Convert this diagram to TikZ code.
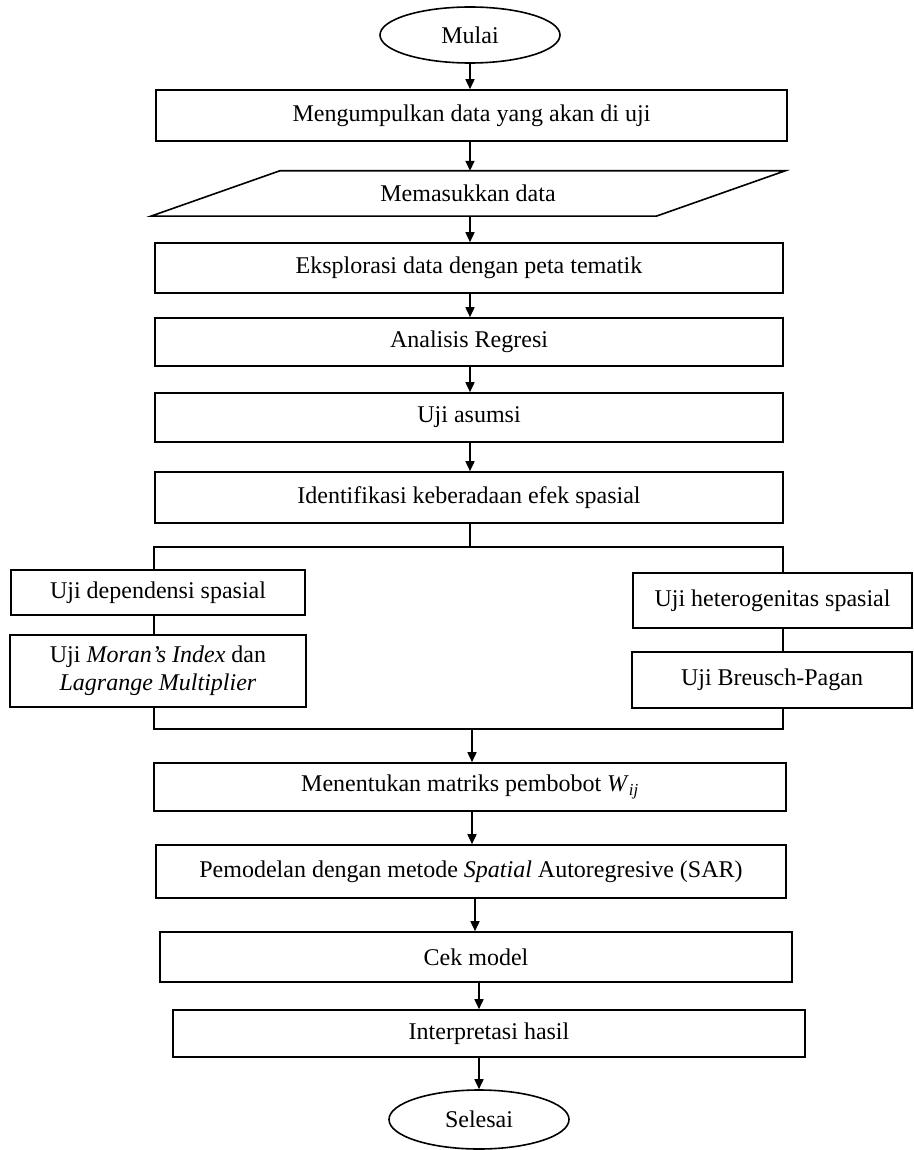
\documentclass[tikz,border=0pt]{standalone}
\usepackage{fontspec}
\setmainfont{Liberation Serif}
\usetikzlibrary{arrows.meta,shapes.geometric,calc}
\begin{document}
\begin{tikzpicture}[x=1pt,y=-1pt,
  txt/.style={inner sep=0pt, align=center, font=\fontsize{24}{28}\selectfont},
  box/.style={txt, draw, line width=1.6pt, rectangle},
  term/.style={txt, draw, line width=1.6pt, ellipse},
  ln/.style={line width=1.6pt},
  arr/.style={line width=1.6pt, -{Triangle[length=10pt,width=9pt]}}]
\useasboundingbox (0,0) rectangle (913,1150);

\node[term, minimum width=180pt, minimum height=56pt] (start) at (470,35) {Mulai};
\node[box, minimum width=631pt, minimum height=51pt] (n1) at (471.5,115.5) {Mengumpulkan data yang akan di uji};
\node[txt, minimum width=505pt, minimum height=45pt] (para) at (468,193.5) {Memasukkan data};
\draw[ln] ($(para.north west)+(64.5,0)$) -- ($(para.north east)+(64.5,0)$) -- ($(para.south east)+(-64.5,0)$) -- ($(para.south west)+(-64.5,0)$) -- cycle;
\node[box, minimum width=628pt, minimum height=50pt] (n3) at (469,268) {Eksplorasi data dengan peta tematik};
\node[box, minimum width=628pt, minimum height=48pt] (n4) at (469,342) {Analisis Regresi};
\node[box, minimum width=628pt, minimum height=49pt] (n5) at (469,417.5) {Uji asumsi};
\node[box, minimum width=628pt, minimum height=51pt] (n6) at (469,497.5) {Identifikasi keberadaan efek spasial};

\node[box, minimum width=294pt, minimum height=45pt] (L1) at (158,592.5) {Uji dependensi spasial};
\node[box, minimum width=279pt, minimum height=55pt] (R1) at (772.5,600.5) {Uji heterogenitas spasial};
\node[box, minimum width=296pt, minimum height=72pt] (L2) at (158,671) {Uji \textit{Moran’s Index} dan\\\textit{Lagrange Multiplier}};
\node[box, minimum width=280pt, minimum height=56pt] (R2) at (772,680) {Uji Breusch-Pagan};

\node[box, minimum width=632pt, minimum height=48pt] (n7) at (470,787) {Menentukan matriks pembobot \textit{W}\textsubscript{\textit{ij}}};
\node[box, minimum width=630pt, minimum height=53pt] (n8) at (471,871.5) {Pemodelan dengan metode \textit{Spatial} Autoregresive (SAR)};
\node[box, minimum width=632pt, minimum height=50pt] (n9) at (476,957) {Cek model};
\node[box, minimum width=632pt, minimum height=47pt] (n10) at (489,1033.5) {Interpretasi hasil};
\node[term, minimum width=180pt, minimum height=59pt] (end) at (479,1119.5) {Selesai};

\coordinate (c1) at (470,0);
\draw[arr] (c1 |- start.south) -- (c1 |- n1.north);
\draw[arr] (c1 |- n1.south) -- (c1 |- para.north);
\draw[arr] (c1 |- para.south) -- (c1 |- n3.north);
\draw[arr] (c1 |- n3.south) -- (c1 |- n4.north);
\draw[arr] (c1 |- n4.south) -- (c1 |- n5.north);
\draw[arr] (c1 |- n5.south) -- (c1 |- n6.north);

\coordinate (sp) at (470,547);
\coordinate (spL) at (154,547);
\coordinate (spR) at (783,547);
\draw[ln] (c1 |- n6.south) -- (sp);
\draw[ln] (spL |- L1.north) -- (spL) -- (spR) -- (spR |- R1.north);
\draw[ln] (spL |- L1.south) -- (spL |- L2.north);
\draw[ln] (spR |- R1.south) -- (spR |- R2.north);

\coordinate (mg) at (472,729);
\coordinate (mgL) at (154,729);
\coordinate (mgR) at (783,729);
\draw[ln] (mgL |- L2.south) -- (mgL) -- (mgR) -- (mgR |- R2.south);
\draw[arr] (mg) -- (mg |- n7.north);

\coordinate (c2) at (472,0);
\coordinate (c3) at (475,0);
\coordinate (c4) at (479,0);
\draw[arr] (c2 |- n7.south) -- (c2 |- n8.north);
\draw[arr] (c3 |- n8.south) -- (c3 |- n9.north);
\draw[arr] (c4 |- n9.south) -- (c4 |- n10.north);
\draw[arr] (c4 |- n10.south) -- (c4 |- end.north);
\end{tikzpicture}
\end{document}
